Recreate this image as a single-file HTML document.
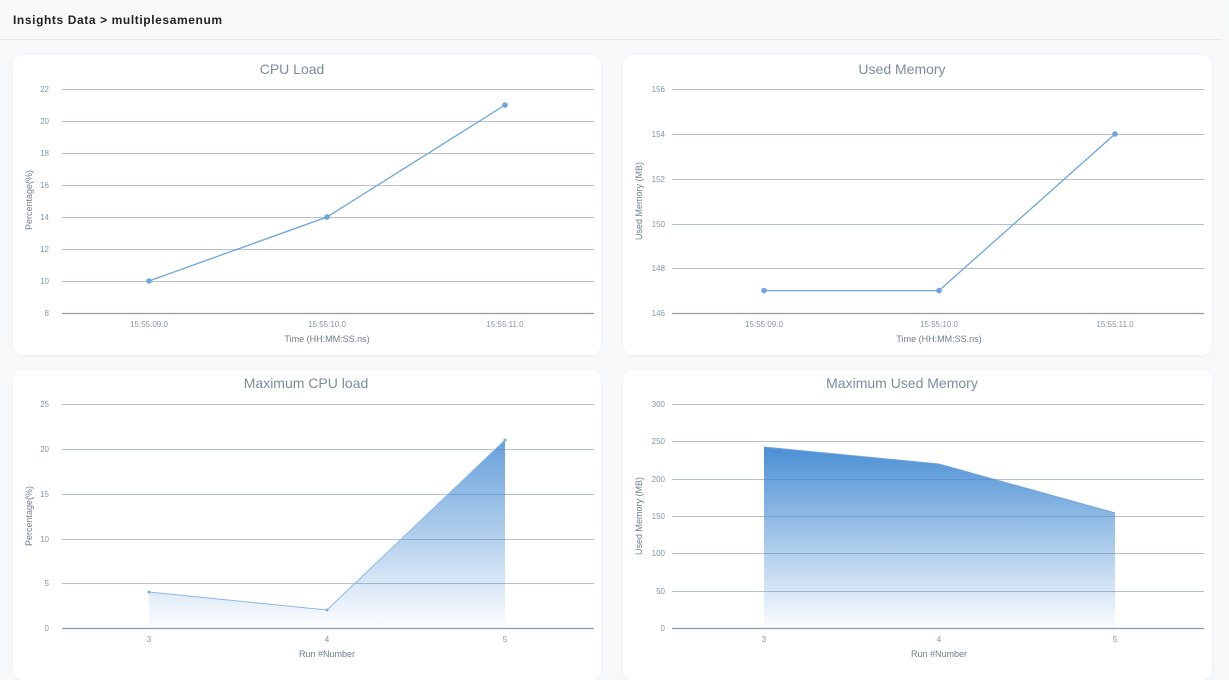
<!DOCTYPE html>
<html><head><meta charset="utf-8"><style>
html,body{margin:0;padding:0;width:1229px;height:665px;overflow:hidden;background:#f7f8fa;font-family:"Liberation Sans",sans-serif}
.hdr{position:absolute;left:0;top:0;width:1222px;height:39px;border-bottom:1px solid #e6e8ec;background:#f9f9fb}
.hdr span{position:absolute;left:13px;top:13px;font-size:12px;font-weight:bold;letter-spacing:0.6px;color:#222}
.card{position:absolute;background:#fff;border-radius:10px;box-shadow:0 1px 3px rgba(0,0,0,0.04)}
svg{position:absolute;left:0;top:0}
text{font-family:"Liberation Sans",sans-serif}
</style></head><body>
<div class="hdr"><span>Insights Data &gt; multiplesamenum</span></div>
<div class="card" style="left:13px;top:55px;width:588px;height:300px"></div>
<div class="card" style="left:623px;top:55px;width:589px;height:300px"></div>
<div class="card" style="left:13px;top:370px;width:588px;height:310px"></div>
<div class="card" style="left:623px;top:370px;width:589px;height:310px"></div>
<svg width="1229" height="665" viewBox="0 0 1229 665">
<defs>
<linearGradient id="g" x1="0" y1="0" x2="0" y2="1">
<stop offset="0" stop-color="#4189d2" stop-opacity="0.95"/>
<stop offset="1" stop-color="#4189d2" stop-opacity="0.02"/>
</linearGradient>
</defs>
<g font-size="14" fill="#7d8c9c" text-anchor="middle">
<text x="292" y="74">CPU Load</text>
<text x="902" y="74">Used Memory</text>
<text x="306" y="388">Maximum CPU load</text>
<text x="902" y="388">Maximum Used Memory</text>
</g>
<g stroke="#b4c0ca" stroke-width="1">
<line x1="62" x2="594" y1="89.5" y2="89.5"/><line x1="62" x2="594" y1="121.5" y2="121.5"/><line x1="62" x2="594" y1="153.5" y2="153.5"/><line x1="62" x2="594" y1="185.5" y2="185.5"/><line x1="62" x2="594" y1="217.5" y2="217.5"/><line x1="62" x2="594" y1="249.5" y2="249.5"/><line x1="62" x2="594" y1="281.5" y2="281.5"/>
<line x1="672" x2="1204" y1="89.5" y2="89.5"/><line x1="672" x2="1204" y1="134.5" y2="134.5"/><line x1="672" x2="1204" y1="179.5" y2="179.5"/><line x1="672" x2="1204" y1="224.5" y2="224.5"/><line x1="672" x2="1204" y1="268.5" y2="268.5"/>
<line x1="62" x2="594" y1="404.5" y2="404.5"/><line x1="62" x2="594" y1="449.5" y2="449.5"/><line x1="62" x2="594" y1="494.5" y2="494.5"/><line x1="62" x2="594" y1="539.5" y2="539.5"/><line x1="62" x2="594" y1="583.5" y2="583.5"/>
<line x1="672" x2="1204" y1="404.5" y2="404.5"/><line x1="672" x2="1204" y1="441.5" y2="441.5"/><line x1="672" x2="1204" y1="479.5" y2="479.5"/><line x1="672" x2="1204" y1="516.5" y2="516.5"/><line x1="672" x2="1204" y1="553.5" y2="553.5"/><line x1="672" x2="1204" y1="591.5" y2="591.5"/>
</g>
<g stroke="#8a9cac" stroke-width="1.2">
<line x1="62" x2="594" y1="313.5" y2="313.5"/><line x1="672" x2="1204" y1="313.5" y2="313.5"/>
<line x1="62" x2="594" y1="628.5" y2="628.5"/><line x1="672" x2="1204" y1="628.5" y2="628.5"/>
</g>
<g font-size="8" fill="#8795a3" text-anchor="end">
<text x="49" y="92">22</text><text x="49" y="124">20</text><text x="49" y="156">18</text><text x="49" y="188">16</text><text x="49" y="220">14</text><text x="49" y="252">12</text><text x="49" y="284">10</text><text x="49" y="316">8</text>
<text x="665" y="92">156</text><text x="665" y="137">154</text><text x="665" y="182">152</text><text x="665" y="227">150</text><text x="665" y="271">148</text><text x="665" y="316">146</text>
<text x="49" y="407">25</text><text x="49" y="452">20</text><text x="49" y="497">15</text><text x="49" y="542">10</text><text x="49" y="586">5</text><text x="49" y="631">0</text>
<text x="665" y="407">300</text><text x="665" y="444">250</text><text x="665" y="482">200</text><text x="665" y="519">150</text><text x="665" y="556">100</text><text x="665" y="594">50</text><text x="665" y="631">0</text>
</g>
<g font-size="8" fill="#8795a3" text-anchor="middle">
<text x="149" y="327">15:55:09.0</text><text x="327" y="327">15:55:10.0</text><text x="505" y="327">15:55:11.0</text>
<text x="764" y="327">15:55:09.0</text><text x="939" y="327">15:55:10.0</text><text x="1115" y="327">15:55:11.0</text>
<text x="149" y="642">3</text><text x="327" y="642">4</text><text x="505" y="642">5</text>
<text x="764" y="642">3</text><text x="939" y="642">4</text><text x="1115" y="642">5</text>
</g>
<g font-size="9" fill="#6f7e8d" text-anchor="middle">
<text x="327" y="342">Time (HH:MM:SS.ns)</text><text x="939" y="342">Time (HH:MM:SS.ns)</text>
<text x="327" y="657">Run #Number</text><text x="939" y="657">Run #Number</text>
<text transform="translate(32,200) rotate(-90)">Percentage(%)</text>
<text transform="translate(642,201) rotate(-90)">Used Memory (MB)</text>
<text transform="translate(32,516) rotate(-90)">Percentage(%)</text>
<text transform="translate(642,516) rotate(-90)">Used Memory (MB)</text>
</g>
<polyline points="149,281 327,217 505,105" fill="none" stroke="#6fa4dc" stroke-width="1.3"/>
<g fill="#6fa4dc"><circle cx="149" cy="281" r="2.8"/><circle cx="327" cy="217" r="2.8"/><circle cx="505" cy="105" r="2.8"/></g>
<polyline points="764,290.6 939,290.6 1115,134" fill="none" stroke="#6fa4dc" stroke-width="1.3"/>
<g fill="#6fa4dc"><circle cx="764" cy="290.6" r="2.8"/><circle cx="939" cy="290.6" r="2.8"/><circle cx="1115" cy="134" r="2.8"/></g>
<polygon points="149,592 327,610 505,440 505,628 149,628" fill="url(#g)" opacity="0.85"/>
<polyline points="149,592 327,610 505,440" fill="none" stroke="#8ab8e8" stroke-width="1"/>
<g fill="#7aaee4"><circle cx="149" cy="592" r="1.5"/><circle cx="327" cy="610" r="1.5"/><circle cx="505" cy="440" r="1.5"/></g>
<polygon points="764,447 939,464 1115,513 1115,628 764,628" fill="url(#g)"/>
<polyline points="764,447 939,464 1115,513" fill="none" stroke="#6fa4dc" stroke-width="1"/>
</svg>
</body></html>
